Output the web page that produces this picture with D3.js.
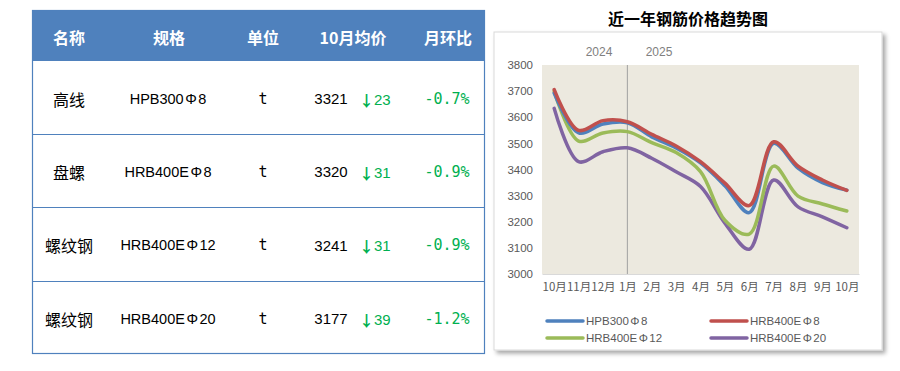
<!DOCTYPE html>
<html><head><meta charset="utf-8">
<script src="https://cdn.jsdelivr.net/npm/d3@7"></script>
<style>
body{margin:0;background:#fff;}
svg{display:block;}
</style></head>
<body>
<svg id="c" width="900" height="371"></svg>
<script>
// ---- table data ----
const headers = ["名称","规格","单位","10月均价","月环比"];
const names = ["高线","盘螺","螺纹钢","螺纹钢"];
const specs = ["HPB300Φ8","HRB400EΦ8","HRB400EΦ12","HRB400EΦ20"];
const units = ["t","t","t","t"];
const prices = [3321,3320,3241,3177];
const changes = [23,31,31,39];
const pcts = ["-0.7%","-0.9%","-0.9%","-1.2%"];

// ---- chart data ----
const months = ["10月","11月","12月","1月","2月","3月","4月","5月","6月","7月","8月","9月","10月"];
const seriesNames = ["HPB300Φ8","HRB400EΦ8","HRB400EΦ12","HRB400EΦ20"];
const hpb300_8   = [3692,3540,3574,3579,3525,3482,3425,3338,3235,3500,3405,3350,3321];
const hrb400e_8  = [3706,3550,3587,3583,3535,3490,3430,3348,3262,3506,3413,3360,3320];
const hrb400e_12 = [3700,3509,3540,3545,3503,3465,3392,3206,3153,3413,3298,3268,3241];
const hrb400e_20 = [3634,3430,3468,3483,3443,3391,3335,3195,3095,3360,3257,3219,3177];
const yTicks = [3000,3100,3200,3300,3400,3500,3600,3700,3800];
const yearLabels = ["2024","2025"];

const colors = ["#4F81BD","#C0504D","#9BBB59","#8064A2"];
const svg = d3.select("#c");
const cjk = "'Noto Sans CJK SC', 'Noto Sans', sans-serif";
const lat = "'Liberation Sans', Arial, 'Noto Sans CJK SC', sans-serif";

function specText(sel, s, gap){
  const idx = s.indexOf("Φ");
  sel.append("tspan").attr("font-family",lat).text(s.slice(0,idx));
  sel.append("tspan").attr("font-family",lat).attr("dx",gap).text("Φ");
  sel.append("tspan").attr("font-family",lat).attr("dx",gap).text(s.slice(idx+1));
}

// ---- table ----
const tX0 = 32, tX1 = 485;
const headTop = 10, headBot = 61;
const rowEdges = [61,134,207,281,354];

svg.append("rect").attr("x",tX0).attr("y",headTop).attr("width",tX1-tX0).attr("height",headBot-headTop).attr("fill","#4F81BD");
const headerX = [69,169,263,353,448];
svg.selectAll("text.h").data(headers).join("text")
  .attr("x",(d,i)=>headerX[i]).attr("y",(headTop+headBot)/2+1)
  .attr("text-anchor","middle").attr("dominant-baseline","central")
  .attr("fill","#fff").attr("font-weight","bold").attr("font-size",16)
  .attr("font-family",cjk).text(d=>d);

svg.append("rect").attr("x",tX0+0.5).attr("y",headTop+0.5).attr("width",tX1-tX0-1).attr("height",rowEdges[4]-headTop-1)
  .attr("fill","none").attr("stroke","#4F81BD").attr("stroke-width",1.2);
rowEdges.slice(1,4).forEach(y=>{
  svg.append("line").attr("x1",tX0).attr("x2",tX1).attr("y1",y+0.5).attr("y2",y+0.5).attr("stroke","#4F81BD").attr("stroke-width",1.2);
});

names.forEach((n,i)=>{
  const cy = (rowEdges[i]+rowEdges[i+1])/2 + 1;
  const g = svg.append("g");
  g.append("text").attr("x",69).attr("y",cy).attr("text-anchor","middle").attr("dominant-baseline","central")
    .attr("font-size",16).attr("font-family",cjk).attr("fill","#000").text(n);
  const st = g.append("text").attr("x",168).attr("y",cy).attr("text-anchor","middle").attr("dominant-baseline","central")
    .attr("font-size",14.5).attr("fill","#000");
  specText(st, specs[i], 1.5);
  g.append("text").attr("x",263).attr("y",cy).attr("text-anchor","middle").attr("dominant-baseline","central")
    .attr("font-size",15).attr("font-family","'DejaVu Sans Mono', monospace").attr("fill","#000").text(units[i]);
  g.append("text").attr("x",331).attr("y",cy).attr("text-anchor","middle").attr("dominant-baseline","central")
    .attr("font-size",15).attr("font-family",lat).attr("fill","#000").text(prices[i]);
  const ch = g.append("text").attr("x",359).attr("y",cy).attr("text-anchor","start").attr("dominant-baseline","central")
    .attr("font-size",15).attr("fill","#00B050");
  ch.append("tspan").attr("font-family",cjk).attr("font-weight","bold").text("↓");
  ch.append("tspan").attr("font-family",lat).text(changes[i]);
  g.append("text").attr("x",447).attr("y",cy).attr("text-anchor","middle").attr("dominant-baseline","central")
    .attr("font-size",15).attr("font-family","'DejaVu Sans Mono', monospace").attr("fill","#00B050").text(pcts[i]);
});

// ---- chart ----
svg.append("text").attr("x",688).attr("y",18).attr("text-anchor","middle").attr("dominant-baseline","central")
  .attr("font-size",16).attr("font-weight","bold").attr("font-family",cjk).attr("fill","#000").text("近一年钢筋价格趋势图");

const defs = svg.append("defs");
const f = defs.append("filter").attr("id","sh").attr("x","-5%").attr("y","-5%").attr("width","115%").attr("height","115%");
f.append("feDropShadow").attr("dx",3).attr("dy",3).attr("stdDeviation",2).attr("flood-color","#000").attr("flood-opacity",0.35);
svg.append("rect").attr("x",494).attr("y",32).attr("width",388).attr("height",318)
  .attr("fill","#fff").attr("stroke","#D9D9D9").attr("filter","url(#sh)");

const pL=542, pR=859, pT=65, pB=274;
svg.append("rect").attr("x",pL).attr("y",pT).attr("width",pR-pL).attr("height",pB-pT).attr("fill","#ECE9DF");

const x = d3.scalePoint().domain(d3.range(months.length)).range([pL,pR]).padding(0.5);
const y = d3.scaleLinear().domain([3000,3800]).range([pB,pT]);

const yAxis = svg.append("g").attr("transform",`translate(${pL},0)`)
  .call(d3.axisLeft(y).tickValues(yTicks).tickFormat(d3.format("d")).tickSize(0).tickPadding(9));
yAxis.select(".domain").remove();
yAxis.selectAll("text").attr("font-size",11.5).attr("font-family",lat).attr("fill","#595959");

const xAxis = svg.append("g").attr("transform",`translate(0,${pB})`)
  .call(d3.axisBottom(x).tickFormat(i=>months[i]).tickSize(0).tickPadding(9));
xAxis.select(".domain").attr("stroke","#D9D9D9");
xAxis.selectAll("text").attr("font-size",11.5).attr("font-family",cjk).attr("fill","#595959");

svg.append("line").attr("x1",x(3)).attr("x2",x(3)).attr("y1",pT).attr("y2",pB).attr("stroke","#A0A0A0").attr("stroke-width",1);
svg.append("text").attr("x",599).attr("y",52).attr("text-anchor","middle").attr("dominant-baseline","central")
  .attr("font-size",12).attr("font-family",lat).attr("fill","#808080").text(yearLabels[0]);
svg.append("text").attr("x",659).attr("y",52).attr("text-anchor","middle").attr("dominant-baseline","central")
  .attr("font-size",12).attr("font-family",lat).attr("fill","#808080").text(yearLabels[1]);

const allSeries = [hpb300_8, hrb400e_8, hrb400e_12, hrb400e_20];
const line = d3.line().x((d,i)=>x(i)).y(d=>y(d)).curve(d3.curveCatmullRom.alpha(0.5));
const drawOrder = [3,2,0,1];
drawOrder.forEach(k=>{
  svg.append("path").attr("d",line(allSeries[k])).attr("fill","none")
    .attr("stroke",colors[k]).attr("stroke-width",3.5).attr("stroke-linecap","round").attr("stroke-linejoin","round");
});

const legPos = [[547,321],[711,321],[547,338],[711,338]];
seriesNames.forEach((n,i)=>{
  const [lx,ly] = legPos[i];
  svg.append("line").attr("x1",lx).attr("x2",lx+36).attr("y1",ly).attr("y2",ly)
    .attr("stroke",colors[i]).attr("stroke-width",3.5).attr("stroke-linecap","round");
  const t = svg.append("text").attr("x",lx+39).attr("y",ly).attr("dominant-baseline","central")
    .attr("font-size",11.5).attr("fill","#595959");
  specText(t, n, 1.5);
});
</script>
</body></html>
